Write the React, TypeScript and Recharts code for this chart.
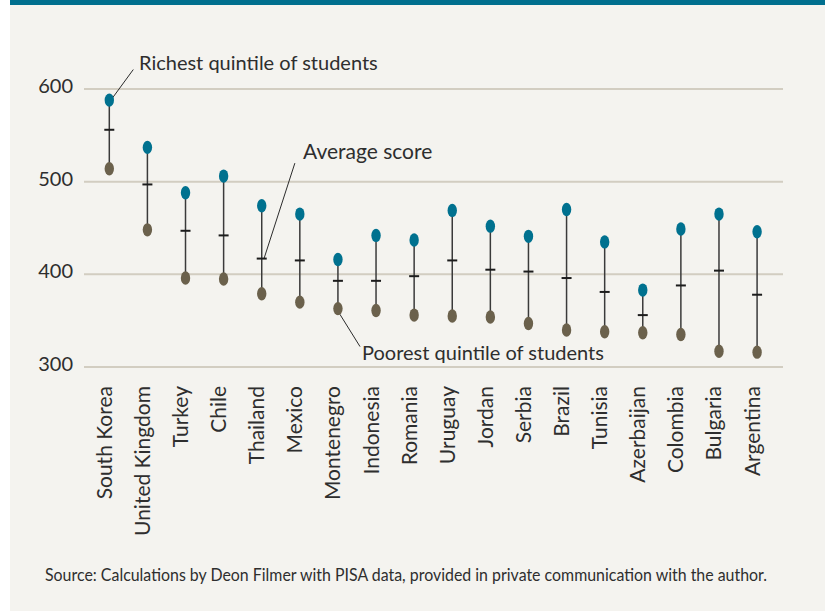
import React from 'react';
import {
  ComposedChart,
  Line,
  XAxis,
  YAxis,
  CartesianGrid,
  ErrorBar,
  ReferenceLine,
} from 'recharts';

const countries = [
  'South Korea', 'United Kingdom', 'Turkey', 'Chile', 'Thailand', 'Mexico',
  'Montenegro', 'Indonesia', 'Romania', 'Uruguay', 'Jordan', 'Serbia',
  'Brazil', 'Tunisia', 'Azerbaijan', 'Colombia', 'Bulgaria', 'Argentina',
];
const richest = [588, 537, 488, 506, 474, 465, 416, 442, 437, 469, 452, 441, 470, 435, 383, 449, 465, 446];
const average = [556, 497, 447, 442, 417, 415, 393, 393, 398, 415, 405, 403, 396, 381, 356, 388, 404, 378];
const poorest = [514, 448, 396, 395, 379, 370, 363, 361, 356, 355, 354, 347, 340, 338, 337, 335, 317, 316];
const yTicks = [300, 400, 500, 600];

const TEAL = '#00718f';
const BROWN = '#6b614c';
const FONT = 'Lato, "Noto Sans", sans-serif';
const TEXT = '#2e2e2e';

const data = countries.map((country, i) => ({
  idx: i,
  country,
  rich: richest[i],
  avg: average[i],
  poor: poorest[i],
  spread: [average[i] - poorest[i], richest[i] - average[i]],
}));

const RichDot = (p: any) =>
  p.cx == null ? null : <ellipse cx={p.cx} cy={p.cy} rx={4.7} ry={6.7} fill={TEAL} />;
const PoorDot = (p: any) =>
  p.cx == null ? null : <ellipse cx={p.cx} cy={p.cy} rx={4.7} ry={6.7} fill={BROWN} />;
const AvgTick = (p: any) =>
  p.cx == null ? null : (
    <line x1={p.cx - 5} x2={p.cx + 5} y1={p.cy} y2={p.cy} stroke="#1c1c1c" strokeWidth={2} />
  );

const CountryTick = ({ x, y, payload }: any) => (
  <text
    transform={`translate(${x + 2.5},${y + 19}) rotate(-90)`}
    textAnchor="end"
    fontFamily={FONT}
    fontSize={21}
    fill={TEXT}
  >
    {countries[payload.value]}
  </text>
);

const ValueTick = ({ x, y, payload }: any) => (
  <text x={x - 11} y={y} dy={4} textAnchor="end" fontFamily={FONT} fontSize={20} fill={TEXT}>
    {payload.value}
  </text>
);

export default function App() {
  return (
    <div style={{ position: 'fixed', left: 0, top: 0, width: 825, height: 611, background: '#ffffff' }}>
      <div style={{ position: 'absolute', left: 10, top: 0, width: 815, height: 611, background: '#f4f3ef' }} />
      <div style={{ position: 'absolute', left: 10, top: 0, width: 815, height: 5, background: '#006f8e' }} />
      <div style={{ position: 'absolute', left: 0, top: 0 }}>
        <ComposedChart
          width={825}
          height={611}
          data={data}
          margin={{ top: 89, right: 42, bottom: 0, left: 0 }}
        >
          <CartesianGrid vertical={false} stroke="#d2cdc1" strokeWidth={2} />
          <XAxis
            type="number"
            dataKey="idx"
            domain={[-0.664, 17.68]}
            allowDataOverflow
            ticks={countries.map((_, i) => i)}
            interval={0}
            axisLine={false}
            tickLine={false}
            tickSize={0}
            tickMargin={0}
            height={244}
            tick={<CountryTick />}
          />
          <YAxis
            domain={[300, 600]}
            ticks={yTicks}
            axisLine={false}
            tickLine={false}
            tickSize={0}
            tickMargin={0}
            width={84}
            tick={<ValueTick />}
          />
          <Line
            dataKey="avg"
            stroke="none"
            dot={AvgTick}
            activeDot={false}
            isAnimationActive={false}
          >
            <ErrorBar dataKey="spread" direction="y" width={0} stroke="#3a3a3a" strokeWidth={1.5} />
          </Line>
          <Line dataKey="rich" stroke="none" dot={RichDot} activeDot={false} isAnimationActive={false} />
          <Line dataKey="poor" stroke="none" dot={PoorDot} activeDot={false} isAnimationActive={false} />

          <ReferenceLine
            segment={[{ x: 0.06, y: 589 }, { x: 0.63, y: 621 }]}
            stroke="#2b2b2b"
            strokeWidth={1}
            ifOverflow="visible"
          />
          <ReferenceLine
            segment={[{ x: 4.06, y: 417 }, { x: 4.87, y: 520 }]}
            stroke="#2b2b2b"
            strokeWidth={1}
            ifOverflow="visible"
          />
          <ReferenceLine
            segment={[{ x: 6.05, y: 357 }, { x: 6.58, y: 322 }]}
            stroke="#2b2b2b"
            strokeWidth={1}
            ifOverflow="visible"
          />

          <text x={139} y={70} fontFamily={FONT} fontSize={20} fill={TEXT}>
            Richest quintile of students
          </text>
          <text x={303} y={159} fontFamily={FONT} fontSize={21} fill={TEXT}>
            Average score
          </text>
          <text x={362} y={360} fontFamily={FONT} fontSize={20} fill={TEXT}>
            Poorest quintile of students
          </text>
          <text
            x={45}
            y={581}
            fontFamily={FONT}
            fontSize={17}
            fill={TEXT}
            textLength={722}
            lengthAdjust="spacingAndGlyphs"
          >
            Source: Calculations by Deon Filmer with PISA data, provided in private communication with the author.
          </text>
        </ComposedChart>
      </div>
    </div>
  );
}
